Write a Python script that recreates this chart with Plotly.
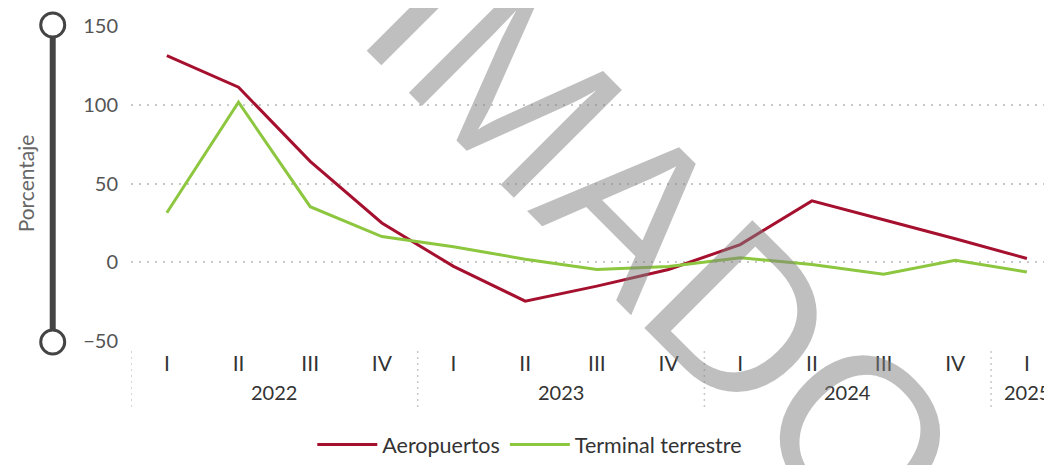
import plotly.graph_objects as go

# Data
years = ["2022"] * 4 + ["2023"] * 4 + ["2024"] * 4 + ["2025"]
quarters = ["I", "II", "III", "IV", "I", "II", "III", "IV", "I", "II", "III", "IV", "I"]
aeropuertos = [131, 111, 64, 25, -2.5, -24.5, -15, -4.5, 11.3, 39, 27, 15, 2.5]
terminal = [31.5, 101.5, 35.3, 16.4, 10, 2, -4.4, -2.5, 3, -1.3, -7.5, 1.3, -6]

RED = "#a6102f"
GREEN = "#8dc63f"
FONT = "Lato"

periods = [y + " " + q for y, q in zip(years, quarters)]

fig = go.Figure()
fig.add_trace(go.Scatter(x=periods, y=aeropuertos, name="Aeropuertos",
                         mode="lines", line=dict(color=RED, width=3)))
fig.add_trace(go.Scatter(x=periods, y=terminal, name="Terminal terrestre",
                         mode="lines", line=dict(color=GREEN, width=3)))

# year labels under the quarters + dotted separators between years
for yr in dict.fromkeys(years):
    idx = [i for i, v in enumerate(years) if v == yr]
    fig.add_annotation(text=yr, xref="x", yref="paper", x=sum(idx) / len(idx), y=-0.157,
                       xanchor="center", yanchor="middle", showarrow=False,
                       font=dict(size=20, color="#333333"))
    fig.add_shape(type="line", xref="x", yref="paper", x0=idx[0] - 0.5, x1=idx[0] - 0.5,
                  y0=-0.028, y1=-0.21, line=dict(color="#c8c8c8", width=1.5, dash="2px,4px"))

# slider on the left (Power BI zoom slider)
sx = -0.085
fig.add_shape(type="line", xref="paper", yref="paper", x0=sx, x1=sx, y0=1, y1=0,
              line=dict(color="#444444", width=6), layer="above")
for yv in [1, 0]:
    fig.add_shape(type="circle", xref="paper", yref="paper", xsizemode="pixel", ysizemode="pixel",
                  xanchor=sx, yanchor=yv, x0=-12, x1=12, y0=-12, y1=12,
                  fillcolor="white", line=dict(color="#444444", width=3), layer="above")

# watermark
fig.add_annotation(text="ESTIMADO", xref="paper", yref="paper", x=0.4126, y=0.808,
                   xanchor="center", yanchor="middle", showarrow=False, textangle=45,
                   font=dict(family="Liberation Sans", size=222, color="rgba(128,128,128,0.5)"))

# the page adds an 8px body margin, so the figure is 8px smaller than the window
fig.update_layout(
    width=1044, height=457,
    margin=dict(l=123, r=0, t=17, b=122),
    paper_bgcolor="white", plot_bgcolor="white",
    font=dict(family=FONT, size=20, color="#333333"),
    showlegend=True,
    legend=dict(orientation="h", x=0.433, xanchor="center", y=-0.322, yanchor="middle",
                itemwidth=60, font=dict(size=21.5, color="#333333")),
    xaxis=dict(type="category", range=[-0.5, 12.35], tickmode="array", tickvals=periods,
               ticktext=quarters, showgrid=False, showline=False, zeroline=False,
               automargin=False, ticks="", ticklabelstandoff=7,
               tickfont=dict(size=21, color="#333333")),
    yaxis=dict(range=[-50.4, 150.4], tickvals=[-50, 0, 50, 100, 150], showgrid=True,
               gridcolor="#c8c8c8", griddash="2px,6px", gridwidth=1.5, zeroline=False,
               showline=False, ticks="", ticklabelstandoff=12, automargin=False,
               tickfont=dict(size=20, color="#555555"),
               title=dict(text="Porcentaje", standoff=42, font=dict(size=21, color="#666666"))),
)

fig.write_html("out.html")
